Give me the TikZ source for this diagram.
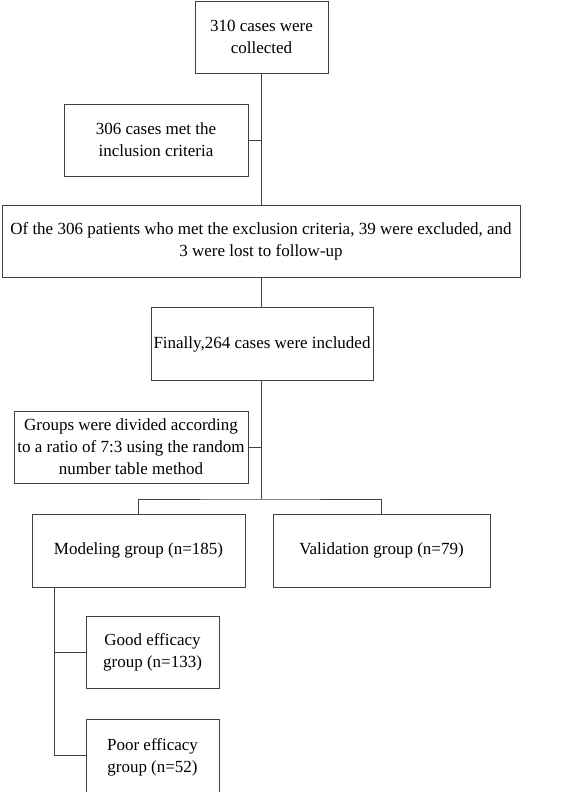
\documentclass[tikz,border=0pt]{standalone}
\usepackage{fontspec}
\setmainfont{Liberation Serif}

\begin{document}
\begin{tikzpicture}[x=1pt,y=-1pt,
  box/.style={draw=black!75,line width=0.9pt,align=center,inner sep=0pt,
    font=\fontsize{17}{22}\selectfont},
  link/.style={draw=black!75,line width=0.9pt}]
\useasboundingbox (0,0) rectangle (567,792);

\node[box,minimum width=133pt,minimum height=72pt] (collect) at (261.5,37) {310 cases were\\collected};
\node[box,minimum width=184pt,minimum height=72pt] (incl) at (156,140) {306 cases met the\\inclusion criteria};
\node[box,minimum width=518pt,minimum height=72pt] (excl) at (261,241) {Of the 306 patients who met the exclusion criteria, 39 were excluded, and\\3 were lost to follow-up};
\node[box,minimum width=222pt,minimum height=73pt] (final) at (262,344) {Finally,264 cases were included};
\node[box,minimum width=234pt,minimum height=72pt] (divide) at (131,447) {Groups were divided according\\to a ratio of 7:3 using the random\\number table method};
\node[box,minimum width=213pt,minimum height=73pt] (model) at (138.5,550.5) {Modeling group (n=185)};
\node[box,minimum width=217pt,minimum height=73pt] (valid) at (381.5,550.5) {Validation group (n=79)};
\node[box,minimum width=133pt,minimum height=72pt] (good) at (152.5,652) {Good efficacy\\group (n=133)};
\node[box,minimum width=133pt,minimum height=76pt] (poor) at (152.5,757) {Poor efficacy\\group (n=52)};

\coordinate (bar) at (261,499);
\coordinate (split) at (54,0);

%main trunk
\draw[link] (collect.south) -- (collect.south |- excl.north);
\draw[link] (incl.east) -- (incl.east -| collect.south);
\draw[link] (excl.south -| collect.south) -- (final.north -| collect.south);
\draw[link] (final.south -| bar) -- (bar);
\draw[link] (divide.east) -- (divide.east -| bar);
\draw[link] (model.north) |- (bar) -| (valid.north);

%efficacy split
\draw[link] (split |- model.south) |- (split |- 0,755) -- (poor.west |- 0,755);
\draw[link] (split |- good.west) -- (good.west);
\end{tikzpicture}
\end{document}
